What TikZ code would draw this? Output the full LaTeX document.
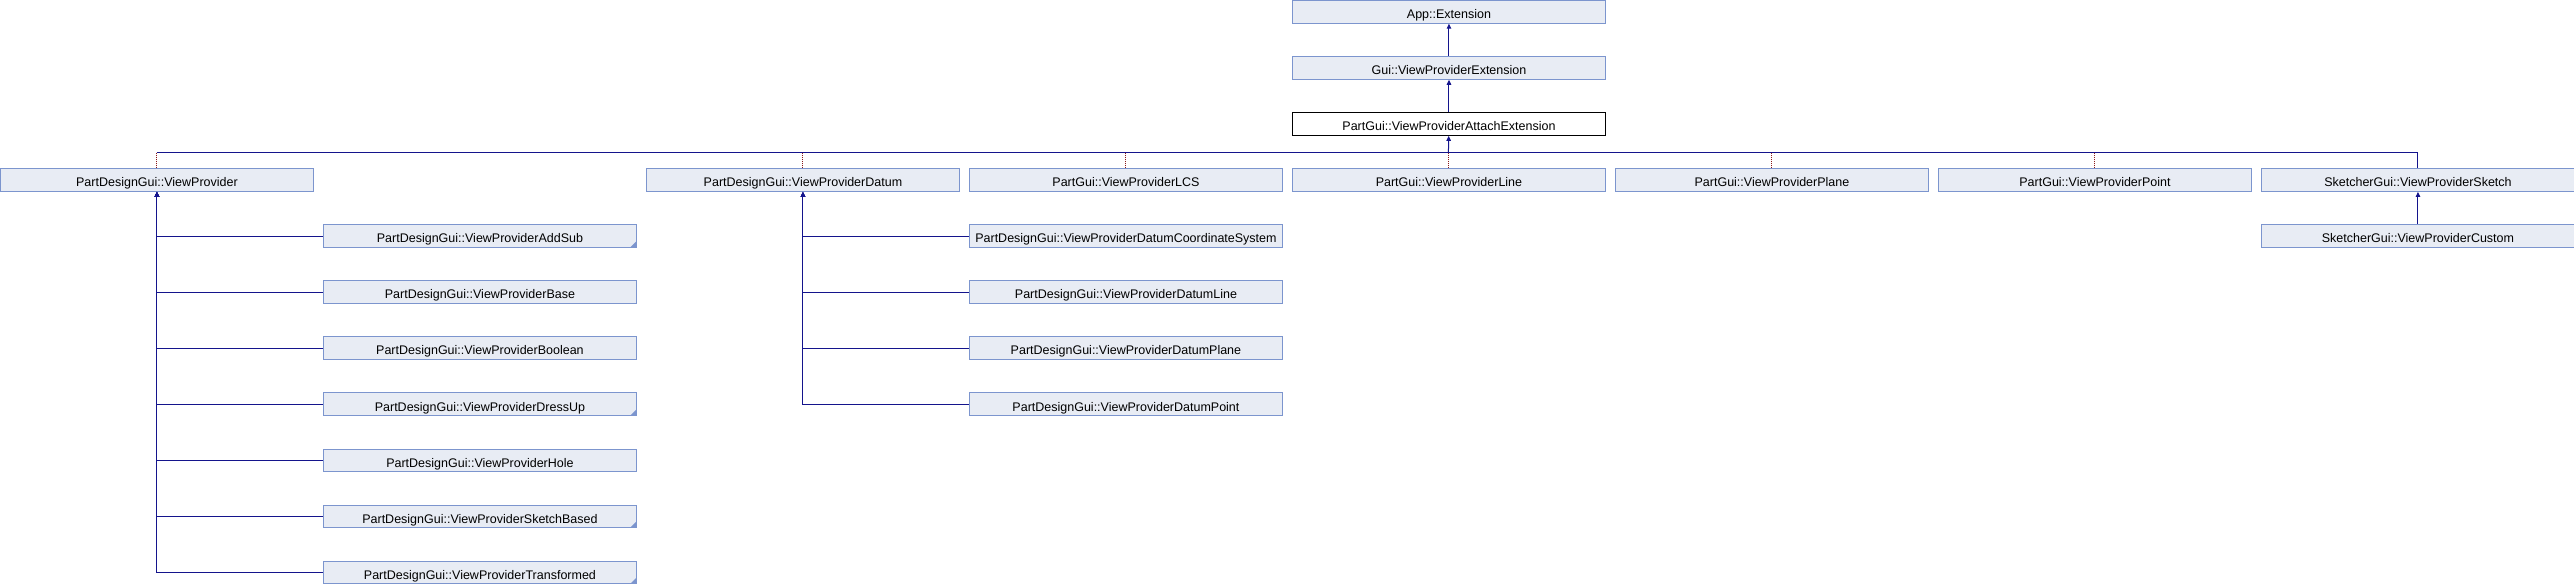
\documentclass[tikz,border=0pt]{standalone}
\usepackage{fontspec}
\setmainfont{Liberation Sans}
\usepackage{tikz}
\usetikzlibrary{arrows.meta}

\definecolor{boxfill}{RGB}{232,236,244}
\definecolor{boxline}{RGB}{124,149,206}
\definecolor{edgeblue}{RGB}{20,20,140}
\definecolor{privred}{RGB}{139,26,26}

\begin{document}
\begin{tikzpicture}[x=1pt,y=-1pt,
  cls/.style={draw=boxline, fill=boxfill, line width=1pt, anchor=north west,
    minimum width=312.3pt, minimum height=22.7pt, inner xsep=1pt, inner ysep=0pt,
    text height=13.4pt, text depth=0pt, font=\fontsize{12.5}{14}\selectfont},
  main/.style={cls, draw=black, fill=white},
  folded/.style={path picture={\fill[boxline] (path picture bounding box.south east)
    -- ++(-6pt,0pt) -- ++(6pt,6pt) -- cycle;}},
  plain/.style={},
  inherit/.style={draw=edgeblue, line width=1pt, {Triangle[width=4.5pt,length=5pt]}-},
  bus/.style={draw=edgeblue, line width=1pt},
  priv/.style={draw=privred, line width=1pt, dash pattern=on 1pt off 1pt}]
\useasboundingbox (0,0) rectangle (2574,584);

% top chain
\node[cls]  (app)    at (1292.3,0)      {App::Extension};
\node[cls]  (gui)    at (1292.3,56.07)  {Gui::ViewProviderExtension};
\node[main] (attach) at (1292.3,112.14) {PartGui::ViewProviderAttachExtension};
\draw[inherit] (app) -- (gui);
\draw[inherit] (gui) -- (attach);

% first level
\node[cls] (vp)     at (0.3,168.2)    {PartDesignGui::ViewProvider};
\node[cls] (datum)  at (646.3,168.2)  {PartDesignGui::ViewProviderDatum};
\node[cls] (lcs)    at (969.3,168.2)  {PartGui::ViewProviderLCS};
\node[cls] (line)   at (1292.3,168.2) {PartGui::ViewProviderLine};
\node[cls] (plane)  at (1615.3,168.2) {PartGui::ViewProviderPlane};
\node[cls] (point)  at (1938.3,168.2) {PartGui::ViewProviderPoint};
\node[cls] (sketch) at (2261.3,168.2) {SketcherGui::ViewProviderSketch};

\coordinate (busmid) at (1448.4,152.7);
\draw[inherit] (attach) -- (busmid);
\draw[bus] (vp.north |- busmid) -- (sketch.north |- busmid) -- (sketch.north);
\foreach \n in {vp,datum,lcs,line,plane,point}
  \draw[priv] (\n.north |- busmid) -- (\n.north);

% children of the feature view provider
\foreach \n/\t/\s [count=\i from 4] in {addsub/AddSub/folded, base/Base/plain,
    boolean/Boolean/plain, dressup/DressUp/folded, hole/Hole/plain,
    sketchbased/SketchBased/folded, transformed/Transformed/folded}
{
  \node[cls,\s] (\n) at (323.3,{56.07*\i}) {PartDesignGui::ViewProvider\t};
  \draw[inherit] (vp) |- (\n);
}

% children of the datum view provider
\foreach \n/\t [count=\i from 4] in {dcs/DatumCoordinateSystem, dline/DatumLine,
    dplane/DatumPlane, dpoint/DatumPoint}
{
  \node[cls] (\n) at (969.3,{56.07*\i}) {PartDesignGui::ViewProvider\t};
  \draw[inherit] (datum) |- (\n);
}

\node[cls] (custom) at (2261.3,224.3) {SketcherGui::ViewProviderCustom};
\draw[inherit] (sketch) -- (custom);

\end{tikzpicture}
\end{document}
